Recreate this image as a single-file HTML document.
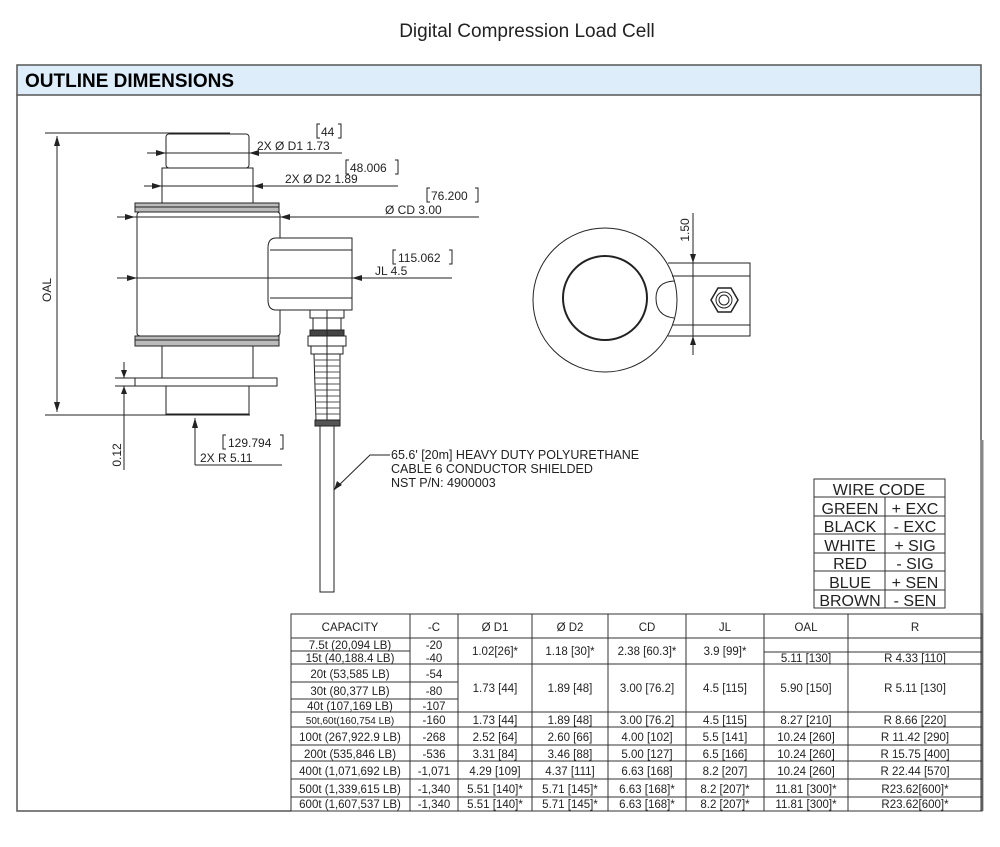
<!DOCTYPE html>
<html><head><meta charset="utf-8"><style>
html,body{margin:0;padding:0;background:#fff;width:1000px;height:847px;overflow:hidden}
svg{display:block}
text{font-family:"Liberation Sans","DejaVu Sans",sans-serif;fill:#222}
</style></head><body>
<svg width="1000" height="847" viewBox="0 0 1000 847" xmlns="http://www.w3.org/2000/svg">
<text x="527" y="37" font-size="19" text-anchor="middle" fill="#111">Digital Compression Load Cell</text>
<!-- frame -->
<rect x="17" y="65" width="964" height="30" fill="#ddeefa" stroke="#555" stroke-width="1.5"/>
<text x="25" y="87" font-size="19" font-weight="bold" fill="#000" style="fill:#000">OUTLINE DIMENSIONS</text>
<path d="M17 95 V811 H291 M981 95 V811" fill="none" stroke="#555" stroke-width="1.5"/>
<line x1="982" y1="440" x2="982" y2="811" stroke="#888" stroke-width="3"/>

<g fill="none" stroke="#222" stroke-width="1">
<!-- left view -->
<rect x="166" y="134" width="83" height="34" rx="3"/>
<rect x="162" y="168" width="91" height="35"/>
<rect x="135" y="203" width="144" height="9" fill="#bbb"/>
<line x1="135" y1="207" x2="279" y2="207"/>
<rect x="137" y="212" width="143" height="124" rx="3"/>
<rect x="135" y="336" width="144" height="10" fill="#bbb"/>
<line x1="135" y1="340" x2="279" y2="340"/>
<rect x="162" y="346" width="91" height="32"/>
<rect x="135" y="378" width="142" height="8"/>
<rect x="166" y="386" width="83" height="28"/>
<!-- junction box -->
<path d="M276 238 H352 V310 H276 Q268 310 268 300 V248 Q268 238 276 238 Z" fill="#fff"/>
<line x1="270" y1="250" x2="352" y2="250"/>
<line x1="270" y1="298" x2="352" y2="298"/>
<!-- connector -->
<rect x="310" y="310" width="34" height="8"/>
<rect x="313" y="318" width="28" height="12"/>
<rect x="310" y="330" width="34" height="6" fill="#444"/>
<rect x="308" y="336" width="38" height="10"/>
<rect x="311" y="346" width="32" height="8"/>
<path d="M314 354 H340 V420 H316 Z"/>
<g stroke="#555">
<line x1="315" y1="360" x2="340" y2="360"/><line x1="315" y1="366" x2="340" y2="366"/><line x1="315" y1="372" x2="340" y2="372"/><line x1="315" y1="378" x2="340" y2="378"/><line x1="315" y1="384" x2="340" y2="384"/><line x1="315" y1="390" x2="340" y2="390"/><line x1="315" y1="396" x2="340" y2="396"/><line x1="315" y1="402" x2="340" y2="402"/><line x1="315" y1="408" x2="340" y2="408"/><line x1="315" y1="414" x2="340" y2="414"/>
</g>
<line x1="327" y1="310" x2="327" y2="420"/>
<rect x="315" y="420" width="25" height="6" fill="#555"/>
<rect x="320" y="426" width="14" height="166"/>
<!-- OAL dim -->
<line x1="45" y1="133" x2="230" y2="133"/>
<line x1="45" y1="415" x2="250" y2="415"/>
<line x1="57" y1="136" x2="57" y2="412"/>
<!-- 0.12 -->
<line x1="115" y1="378" x2="135" y2="378"/>
<line x1="115" y1="386" x2="135" y2="386"/>
<line x1="124" y1="362" x2="124" y2="378"/>
<line x1="124" y1="386" x2="124" y2="470"/>
<!-- D1 D2 CD JL lines -->
<line x1="147" y1="153" x2="342" y2="153"/>
<line x1="144" y1="186" x2="398" y2="186"/>
<line x1="117" y1="217" x2="479" y2="217"/>
<line x1="117" y1="278" x2="452" y2="278"/>
<!-- R 5.11 -->
<line x1="195" y1="418" x2="195" y2="465"/>
<line x1="195" y1="465" x2="282" y2="465"/>
<!-- brackets -->
<path d="M320 124 h-3 v14 h3 M338 124 h3 v14 h-3"/>
<path d="M349 160 h-3 v14 h3 M395 160 h3 v14 h-3"/>
<path d="M430 188 h-3 v14 h3 M475 188 h3 v14 h-3"/>
<path d="M396 250 h-3 v14 h3 M449 250 h3 v14 h-3"/>
<path d="M226 435 h-3 v14 h3 M280 435 h3 v14 h-3"/>
<!-- leader -->
<path d="M334 490 L370 455 H390"/>
<!-- right view -->
<circle cx="605" cy="300" r="72"/>
<circle cx="605" cy="298" r="42" stroke-width="2"/>
<path d="M668 263 H750 V336 H668"/>
<line x1="672" y1="276" x2="750" y2="276"/>
<line x1="672" y1="325" x2="750" y2="325"/>
<path d="M674 281 Q656 282 656 298 Q656 316 674 318"/>
<polygon points="711,300 718,288 731,288 738,300 731,312 718,312" stroke-width="1.5"/>
<circle cx="724" cy="300" r="8"/><circle cx="724" cy="300" r="5"/>
<line x1="693" y1="213" x2="693" y2="355"/>
</g>
<g fill="#222">
<polygon points="57,136 54,146 60,146"/><polygon points="57,412 54,402 60,402"/>
<polygon points="166,153 156,150 156,156"/><polygon points="249,153 259,150 259,156"/>
<polygon points="162,186 152,183 152,189"/><polygon points="253,186 263,183 263,189"/>
<polygon points="135,217 125,214 125,220"/><polygon points="280,217 290,214 290,220"/>
<polygon points="137,278 127,275 127,281"/><polygon points="352,278 362,275 362,281"/>
<polygon points="124,378 121,370 127,370"/><polygon points="124,386 121,394 127,394"/>
<polygon points="195,418 192,428 198,428"/>
<polygon points="334,490 337,481 342,485"/>
<polygon points="693,263 690,254 696,254"/><polygon points="693,336 690,345 696,345"/>
</g>
<g font-size="12">
<text x="321" y="136">44</text>
<text x="257" y="150">2X  Ø  D1  1.73</text>
<text x="350" y="172">48.006</text>
<text x="285" y="183">2X  Ø  D2     1.89</text>
<text x="431" y="200">76.200</text>
<text x="385" y="214">Ø  CD     3.00</text>
<text x="398" y="262">115.062</text>
<text x="375" y="275">JL        4.5</text>
<text x="228" y="447">129.794</text>
<text x="200" y="462">2X      R 5.11</text>
<text transform="translate(51,290) rotate(-90)" font-size="12" text-anchor="middle">OAL</text>
<text transform="translate(121,455) rotate(-90)" text-anchor="middle">0.12</text>
<text transform="translate(689,230) rotate(-90)" text-anchor="middle">1.50</text>
<text x="391" y="459" font-size="12.5">65.6' [20m] HEAVY DUTY POLYURETHANE</text>
<text x="391" y="473" font-size="12.5">CABLE 6 CONDUCTOR SHIELDED</text>
<text x="391" y="487" font-size="12.5">NST P/N: 4900003</text>
</g>
<!-- wire code -->
<g fill="none" stroke="#333" stroke-width="1">
<rect x="814" y="479" width="131" height="129"/>
<line x1="814" y1="497" x2="945" y2="497"/><line x1="814" y1="516" x2="945" y2="516"/><line x1="814" y1="534" x2="945" y2="534"/><line x1="814" y1="553" x2="945" y2="553"/><line x1="814" y1="571" x2="945" y2="571"/><line x1="814" y1="590" x2="945" y2="590"/>
<line x1="885" y1="497" x2="885" y2="608"/>
</g>
<g font-size="16" text-anchor="middle" fill="#333">
<text x="879" y="495">WIRE CODE</text>
<text x="850" y="514">GREEN</text><text x="915" y="514">+ EXC</text>
<text x="850" y="532">BLACK</text><text x="915" y="532">- EXC</text>
<text x="850" y="551">WHITE</text><text x="915" y="551">+ SIG</text>
<text x="850" y="569">RED</text><text x="915" y="569">- SIG</text>
<text x="850" y="588">BLUE</text><text x="915" y="588">+ SEN</text>
<text x="850" y="606">BROWN</text><text x="915" y="606">- SEN</text>
</g>
<!-- main table -->
<g fill="none" stroke="#333" stroke-width="1">
<rect x="291" y="614" width="691" height="197"/>
<line x1="291" y1="638" x2="982" y2="638"/>
<line x1="291" y1="651" x2="410" y2="651"/>
<line x1="291" y1="664" x2="982" y2="664"/>
<line x1="291" y1="682" x2="458" y2="682"/>
<line x1="291" y1="699" x2="458" y2="699"/>
<line x1="291" y1="712" x2="982" y2="712"/>
<line x1="291" y1="727" x2="982" y2="727"/>
<line x1="291" y1="745" x2="982" y2="745"/>
<line x1="291" y1="761" x2="982" y2="761"/>
<line x1="291" y1="779" x2="982" y2="779"/>
<line x1="291" y1="797" x2="982" y2="797"/>
<line x1="764" y1="652" x2="982" y2="652"/>
<line x1="410" y1="614" x2="410" y2="811"/>
<line x1="458" y1="614" x2="458" y2="811"/>
<line x1="532" y1="614" x2="532" y2="811"/>
<line x1="608" y1="614" x2="608" y2="811"/>
<line x1="686" y1="614" x2="686" y2="811"/>
<line x1="764" y1="614" x2="764" y2="811"/>
<line x1="848" y1="614" x2="848" y2="811"/>
</g>
<g font-size="11.5" text-anchor="middle" fill="#222">
<text x="350" y="631">CAPACITY</text><text x="434" y="631">-C</text><text x="495" y="631">Ø D1</text><text x="570" y="631">Ø D2</text><text x="647" y="631">CD</text><text x="725" y="631">JL</text><text x="806" y="631">OAL</text><text x="915" y="631">R</text>
<text x="350" y="649">7.5t (20,094 LB)</text><text x="434" y="649">-20</text>
<text x="350" y="662">15t (40,188.4 LB)</text><text x="434" y="662">-40</text>
<text x="495" y="655">1.02[26]*</text><text x="570" y="655">1.18 [30]*</text><text x="647" y="655">2.38 [60.3]*</text><text x="725" y="655">3.9 [99]*</text><text x="806" y="662">5.11 [130]</text><text x="915" y="662">R 4.33 [110]</text>
<text x="350" y="678">20t (53,585 LB)</text><text x="434" y="678">-54</text>
<text x="350" y="695">30t (80,377 LB)</text><text x="434" y="695">-80</text>
<text x="350" y="710">40t (107,169 LB)</text><text x="434" y="710">-107</text>
<text x="495" y="692">1.73 [44]</text><text x="570" y="692">1.89 [48]</text><text x="647" y="692">3.00 [76.2]</text><text x="725" y="692">4.5 [115]</text><text x="806" y="692">5.90 [150]</text><text x="915" y="692">R 5.11 [130]</text>
<g><text x="350" y="724" font-size="10">50t,60t(160,754 LB)</text><text x="434" y="724">-160</text><text x="495" y="724">1.73 [44]</text><text x="570" y="724">1.89 [48]</text><text x="647" y="724">3.00 [76.2]</text><text x="725" y="724">4.5 [115]</text><text x="806" y="724">8.27 [210]</text><text x="915" y="724">R 8.66 [220]</text></g>
<g><text x="350" y="741">100t (267,922.9 LB)</text><text x="434" y="741">-268</text><text x="495" y="741">2.52 [64]</text><text x="570" y="741">2.60 [66]</text><text x="647" y="741">4.00 [102]</text><text x="725" y="741">5.5 [141]</text><text x="806" y="741">10.24 [260]</text><text x="915" y="741">R 11.42 [290]</text></g>
<g><text x="350" y="758">200t (535,846 LB)</text><text x="434" y="758">-536</text><text x="495" y="758">3.31 [84]</text><text x="570" y="758">3.46 [88]</text><text x="647" y="758">5.00 [127]</text><text x="725" y="758">6.5 [166]</text><text x="806" y="758">10.24 [260]</text><text x="915" y="758">R 15.75 [400]</text></g>
<g><text x="350" y="775">400t (1,071,692 LB)</text><text x="434" y="775">-1,071</text><text x="495" y="775">4.29 [109]</text><text x="570" y="775">4.37 [111]</text><text x="647" y="775">6.63 [168]</text><text x="725" y="775">8.2 [207]</text><text x="806" y="775">10.24 [260]</text><text x="915" y="775">R 22.44 [570]</text></g>
<g><text x="350" y="793">500t (1,339,615 LB)</text><text x="434" y="793">-1,340</text><text x="495" y="793">5.51 [140]*</text><text x="570" y="793">5.71 [145]*</text><text x="647" y="793">6.63 [168]*</text><text x="725" y="793">8.2 [207]*</text><text x="806" y="793">11.81 [300]*</text><text x="915" y="793">R23.62[600]*</text></g>
<g><text x="350" y="808">600t (1,607,537 LB)</text><text x="434" y="808">-1,340</text><text x="495" y="808">5.51 [140]*</text><text x="570" y="808">5.71 [145]*</text><text x="647" y="808">6.63 [168]*</text><text x="725" y="808">8.2 [207]*</text><text x="806" y="808">11.81 [300]*</text><text x="915" y="808">R23.62[600]*</text></g>
</g>
</svg>
</body></html>
